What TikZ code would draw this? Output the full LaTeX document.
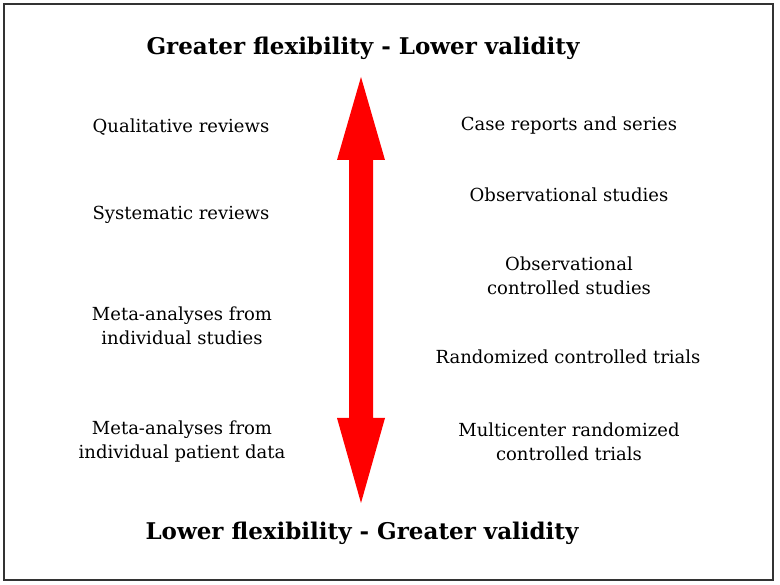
\documentclass[tikz,border=0pt]{standalone}
\usepackage{fontspec}
\setmainfont{DejaVu Serif}
\definecolor{framegray}{HTML}{333333}
\definecolor{arrowred}{HTML}{FF0000}
\begin{document}
\begin{tikzpicture}[x=1pt,y=-1pt,
  lbl/.style={align=center,font=\fontsize{18}{24}\selectfont,inner sep=0pt},
  ttl/.style={font=\fontsize{23}{26}\selectfont\bfseries,inner sep=0pt}]
\useasboundingbox (0,0) rectangle (780,585);
\fill[white] (0,0) rectangle (780,585);
\draw[framegray,line width=2pt] (4,4) rectangle (773,580);
% double arrow
\fill[arrowred] (361,77) -- (385,160) -- (373,160) -- (373,418) -- (385,418)
  -- (361,503) -- (337,418) -- (349,418) -- (349,160) -- (337,160) -- cycle;
\node[ttl] (top) at (363,48) {Greater flexibility - Lower validity};
\node[ttl] (bot) at (362,533) {Lower flexibility - Greater validity};
\node[lbl] (l1) at (181,127) {Qualitative reviews};
\node[lbl] (l2) at (181,215) {Systematic reviews};
\node[lbl] (l3) at (182,326) {Meta-analyses from\\individual studies};
\node[lbl] (l4) at (182,442) {Meta-analyses from\\individual patient data};
\node[lbl] (r1) at (569,126) {Case reports and series};
\node[lbl] (r2) at (569,195) {Observational studies};
\node[lbl] (r3) at (569,276) {Observational\\controlled studies};
\node[lbl] (r4) at (568,357) {Randomized controlled trials};
\node[lbl] (r5) at (569,442) {Multicenter randomized\\controlled trials};
\end{tikzpicture}
\end{document}
